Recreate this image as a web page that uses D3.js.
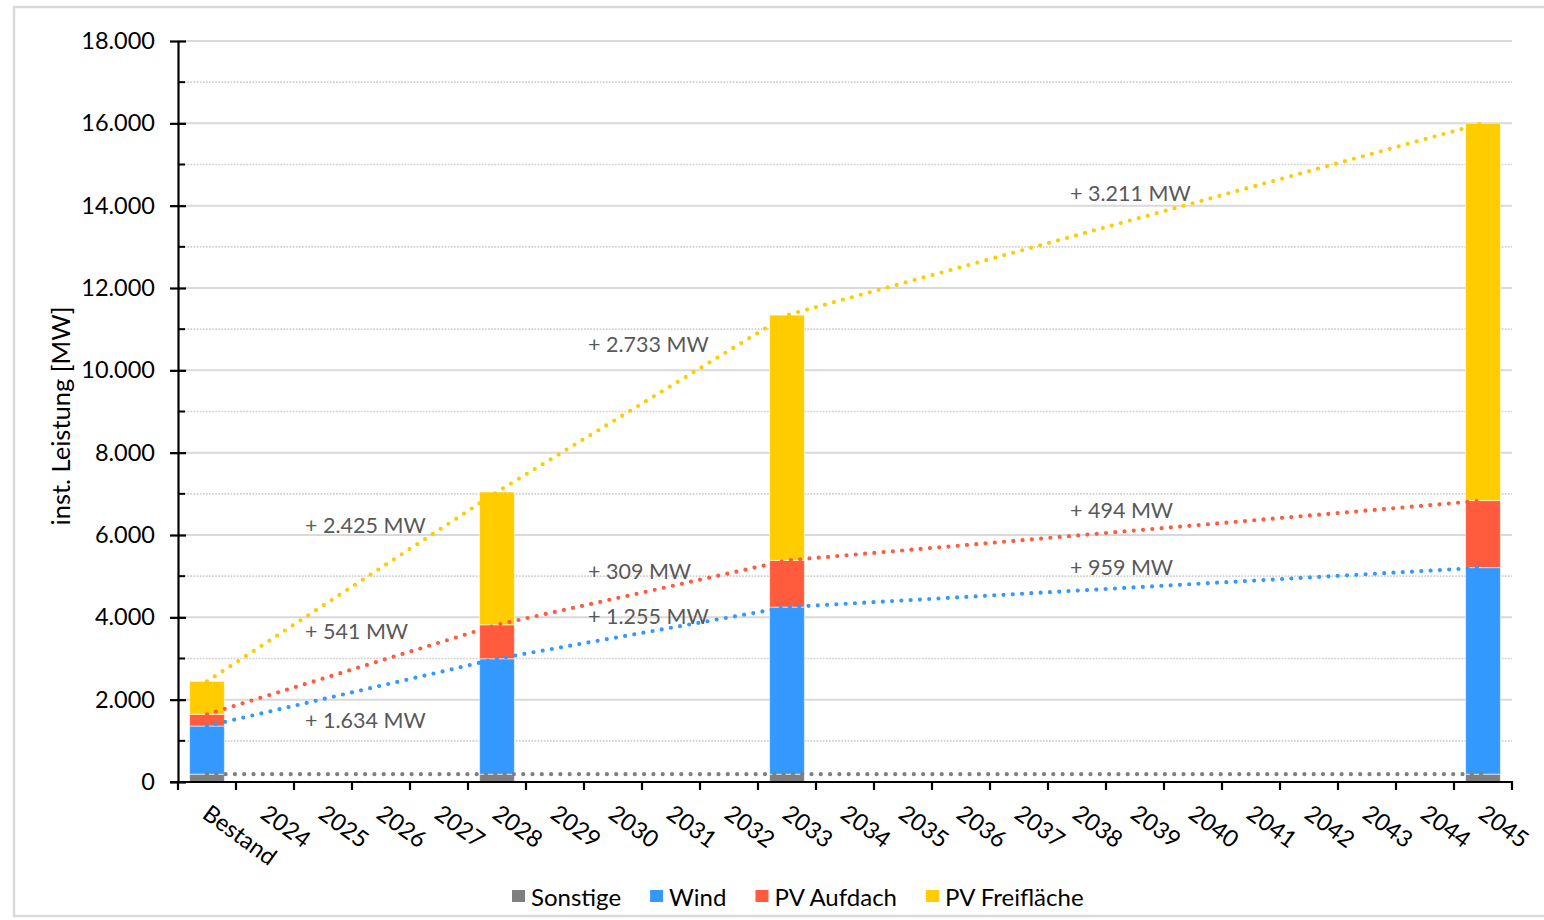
<!DOCTYPE html>
<html>
<head>
<meta charset="utf-8">
<script src="https://cdn.jsdelivr.net/npm/d3@7"></script>
<style>
  body { margin: 0; background: #fff; }
  svg text { font-family: Lato, sans-serif; }
</style>
</head>
<body>
<svg id="chart" width="1544" height="920"></svg>
<script>
// categories on the x axis
const categories = ['Bestand', '2024', '2025', '2026', '2027', '2028', '2029', '2030', '2031', '2032', '2033', '2034',
    '2035', '2036', '2037', '2038', '2039', '2040', '2041', '2042', '2043', '2044', '2045'];
// years that actually carry a bar
const barYears = ['Bestand', '2028', '2033', '2045'];

// installed capacity in MW
const sonstige = [190, 190, 190, 190];
const wind = [1170, 2804, 4059, 5018];
const pvAufdach = [284, 825, 1134, 1628];
const pvFreiflaeche = [800, 3225, 5958, 9169];

const seriesNames = ['Sonstige', 'Wind', 'PV Aufdach', 'PV Freifläche'];
const seriesColors = ['#7f7f7f', '#3399ff', '#ff5b3c', '#ffcc00'];
const majorTicks = [0, 2000, 4000, 6000, 8000, 10000, 12000, 14000, 16000, 18000];
const minorTicks = [1000, 3000, 5000, 7000, 9000, 11000, 13000, 15000, 17000];

// pixel nudges for the growth labels (relative to segment midpoint)
const noteDx = [-47, -54, -65];
const noteDy = { wind: [28, -17, -20], aufdach: [-39, -22, -20], frei: [-62, -60, -26] };

const de = d3.formatLocale({ decimal: ',', thousands: '.', grouping: [3], currency: ['', ' €'] });
const fmt = de.format(',');

const svg = d3.select('#chart');

// outer frame
svg.append('rect')
    .attr('x', 14).attr('y', 7).attr('width', 1540).attr('height', 909)
    .attr('fill', 'none').attr('stroke', '#d9d9d9').attr('stroke-width', 2.5);

const x = d3.scaleBand().domain(categories).range([178, 1512]).paddingInner(0).paddingOuter(0);
const y = d3.scaleLinear().domain([0, 18000]).range([782, 41]);
const barW = x.bandwidth() * 0.6;
const cx = (c) => x(c) + x.bandwidth() / 2;

// gridlines
svg.append('g').selectAll('line').data(majorTicks.filter(d => d > 0)).join('line')
    .attr('x1', 178).attr('x2', 1512)
    .attr('y1', d => y(d)).attr('y2', d => y(d))
    .attr('stroke', '#d9d9d9').attr('stroke-width', 2);
svg.append('g').selectAll('line').data(minorTicks).join('line')
    .attr('x1', 178).attr('x2', 1512)
    .attr('y1', d => y(d)).attr('y2', d => y(d))
    .attr('stroke', '#d0d0d0').attr('stroke-width', 1.6).attr('stroke-dasharray', '1.7 1.4');

// stacked bars
const rows = barYears.map((yr, i) => ({
    year: yr, 'Sonstige': sonstige[i], 'Wind': wind[i], 'PV Aufdach': pvAufdach[i], 'PV Freifläche': pvFreiflaeche[i]
}));
const stacked = d3.stack().keys(seriesNames)(rows);

svg.append('g').selectAll('g').data(stacked).join('g')
    .attr('fill', (d, i) => seriesColors[i])
    .selectAll('rect').data(d => d).join('rect')
    .attr('x', d => cx(d.data.year) - barW / 2)
    .attr('width', barW)
    .attr('y', d => y(d[1]))
    .attr('height', d => y(d[0]) - y(d[1]))
    .attr('stroke', '#ffffff').attr('stroke-opacity', 0.55).attr('stroke-width', 1);

// axes
const yAxis = svg.append('g').attr('transform', 'translate(178,0)')
    .call(d3.axisLeft(y).tickValues(majorTicks).tickFormat(fmt).tickSizeInner(8).tickSizeOuter(0));
yAxis.select('.domain').attr('stroke', '#000').attr('stroke-width', 2.2);
yAxis.selectAll('.tick line').attr('stroke', '#000').attr('stroke-width', 2.2).attr('x2', 8).attr('x1', -8);
yAxis.selectAll('.tick text').attr('x', -23).attr('font-size', 23.5).attr('fill', '#000')
    .style('font-family', 'Lato, sans-serif');
svg.append('g').selectAll('line').data(minorTicks).join('line')
    .attr('x1', 178).attr('x2', 185)
    .attr('y1', d => y(d)).attr('y2', d => y(d))
    .attr('stroke', '#000').attr('stroke-width', 2);

const xAxisG = svg.append('g').attr('transform', 'translate(0,782)');
xAxisG.append('line').attr('x1', 170).attr('x2', 1513).attr('stroke', '#000').attr('stroke-width', 2.2);
xAxisG.selectAll('line.tk').data(categories.concat(['end'])).join('line')
    .attr('class', 'tk')
    .attr('x1', (d, i) => x.range()[0] + i * x.step())
    .attr('x2', (d, i) => x.range()[0] + i * x.step())
    .attr('y1', 0).attr('y2', 8)
    .attr('stroke', '#000').attr('stroke-width', 2.2);
xAxisG.selectAll('text').data(categories).join('text')
    .attr('transform', d => `translate(${cx(d) - 6},35) rotate(36)`)
    .attr('font-size', 23.5).attr('fill', '#000')
    .text(d => d);

// y axis title
svg.append('text')
    .attr('transform', 'translate(70,416) rotate(-90)')
    .attr('text-anchor', 'middle').attr('font-size', 25.5).attr('fill', '#000')
    .text('inst. Leistung [MW]');

// trend lines through the stack tops
const line = d3.line().x(d => cx(d.data.year)).y(d => y(d[1]));
svg.append('g').selectAll('path').data(stacked).join('path')
    .attr('d', d => line(d))
    .attr('fill', 'none')
    .attr('stroke', (d, i) => seriesColors[i])
    .attr('stroke-width', 4.2)
    .attr('stroke-linecap', 'round')
    .attr('stroke-dasharray', '0 9.3');

// growth labels
const notes = [];
const seriesKey = { 'Wind': 'wind', 'PV Aufdach': 'aufdach', 'PV Freifläche': 'frei' };
stacked.forEach((s) => {
    const key = seriesKey[s.key];
    if (!key) return;
    for (let k = 0; k < s.length - 1; k++) {
        const a = s[k], b = s[k + 1];
        const delta = b.data[s.key] - a.data[s.key];
        const mx = (cx(a.data.year) + cx(b.data.year)) / 2;
        const my = (y(a[1]) + y(b[1])) / 2;
        notes.push({ text: '+ ' + fmt(delta) + ' MW', x: mx + noteDx[k], y: my + noteDy[key][k] });
    }
});
svg.append('g').selectAll('text').data(notes).join('text')
    .attr('x', d => d.x).attr('y', d => d.y)
    .attr('dominant-baseline', 'central')
    .attr('font-size', 21.5).attr('fill', '#595959')
    .text(d => d.text);

// legend
const legend = svg.append('g').attr('transform', 'translate(512,896)');
let lx = 0;
seriesNames.forEach((name, i) => {
    const g = legend.append('g').attr('transform', `translate(${lx},0)`);
    g.append('rect').attr('x', 0).attr('y', -6).attr('width', 13).attr('height', 12).attr('fill', seriesColors[i]);
    const t = g.append('text').attr('x', 19).attr('y', 0).attr('dominant-baseline', 'central')
        .attr('font-size', 24).attr('fill', '#000').text(name);
    lx += 19 + t.node().getComputedTextLength() + 29;
});
</script>
</body>
</html>
